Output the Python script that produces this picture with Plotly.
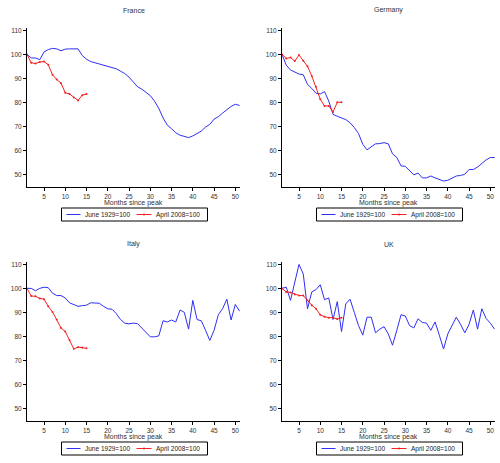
import plotly.graph_objects as go
from plotly.subplots import make_subplots

months_1929 = list(range(1, 52))
months_2008 = list(range(1, 16))

countries = ["France", "Germany", "Italy", "UK"]
legend_names = ["June 1929=100", "April 2008=100"]

france_1929 = [100, 98.5, 98.5, 97.8, 101, 102, 102.5, 102.3, 101.5, 102.2,
               102.3, 102.3, 102.3, 99.5, 98, 97, 96.5, 96, 95.5, 95,
               94.3, 94, 93, 92, 90.5, 88.5, 86.5, 85.5, 84.3, 82.8,
               80.5, 77.5, 73.5, 70.5, 69, 67.3, 66.3, 65.8, 65.3, 66,
               67, 68, 69.7, 70.8, 73, 74, 75.5, 77, 78.3, 79.2, 78.7]
france_2008 = [100, 96.5, 96.2, 96.8, 97, 95.7, 91.5, 89.5, 88, 84,
               83.5, 82, 80.8, 83, 83.5]

germany_1929 = [100, 95.5, 93.5, 92.5, 91.8, 91.5, 87.5, 85.8, 83.8, 83.5,
                84.5, 80.5, 75, 74.2, 73.5, 72.8, 71.5, 69.5, 67, 62.5,
                60.2, 61.5, 62.7, 62.8, 63.2, 62.7, 58.5, 57, 53.5, 53.3,
                51.5, 49.8, 50.5, 48.5, 48.5, 49.3, 48.5, 47.8, 47.2, 47.5,
                48.3, 49.3, 49.5, 50, 52, 52, 53, 54.5, 56, 57, 57]
germany_2008 = [100, 98.3, 98.7, 97.2, 99.7, 97.3, 95, 91, 86.5, 81.3,
                78.5, 78.5, 76, 80, 80]

italy_1929 = [100, 100, 99, 100, 100.5, 100.3, 98, 97, 97, 96,
              94, 93.2, 92.5, 92.8, 93, 94, 94, 93.8, 92.5, 91.5,
              91.3, 89.5, 87, 85.5, 85.2, 85.5, 85.3, 83.5, 81.5, 79.8,
              79.8, 80.2, 86.5, 86, 86.8, 86, 91, 90, 83, 95,
              87, 86.5, 82.5, 78.3, 82.5, 89, 91.5, 95.5, 86.8, 93.3, 90.5]
italy_2008 = [100, 96.8, 96.7, 95.8, 95.5, 92.5, 90.2, 87, 83.5, 82,
              78.5, 74.8, 75.5, 75.3, 75]

uk_1929 = [100, 100.5, 95, 103, 110, 106, 91.5, 98.5, 99.5, 101.5,
           95.3, 96, 87, 94.5, 82, 93.5, 95.5, 90, 84.5, 80.5,
           88, 88, 81.5, 83, 84, 81, 76.3, 82.5, 89, 88.5,
           84.5, 83.5, 87.3, 85.8, 85.5, 82.5, 86, 80.5, 74.7, 81,
           84.5, 88, 85, 81.5, 85, 91, 83, 91.5, 87.5, 85.5, 83]
uk_2008 = [100, 98.5, 98.3, 97.5, 97, 97, 95, 93, 91.5, 89,
           88.2, 87.8, 87.8, 87.2, 87.8]

series_1929 = [france_1929, germany_1929, italy_1929, uk_1929]
series_2008 = [france_2008, germany_2008, italy_2008, uk_2008]

x_ticks = list(range(5, 55, 5))
y_ticks = list(range(50, 120, 10))

W, H = 500, 463
# plot areas in pixels (left, right, top, bottom)
boxes = [(27, 240, 28, 187), (282, 495, 28, 187),
         (27, 240, 262, 421), (282, 495, 262, 421)]

FONT = "Liberation Sans"
BLUE = "#2f2ff5"
RED = "#f52020"


def px(x):
    return x / W


def py(y):
    return 1 - y / H


fig = make_subplots(rows=2, cols=2)

for i, name in enumerate(countries):
    r, c = i // 2 + 1, i % 2 + 1
    fig.add_trace(go.Scatter(
        x=months_1929, y=series_1929[i], mode="lines",
        line=dict(color=BLUE, width=1), name=legend_names[0]
    ), row=r, col=c)
    fig.add_trace(go.Scatter(
        x=months_2008, y=series_2008[i], mode="lines+markers",
        line=dict(color=RED, width=1),
        marker=dict(color=RED, size=2, symbol="circle"),
        name=legend_names[1]
    ), row=r, col=c)

layout = dict(
    width=W, height=H, paper_bgcolor="white", plot_bgcolor="white",
    margin=dict(l=0, r=0, t=0, b=0), showlegend=False,
    font=dict(family=FONT, size=6.5, color="#333333"),
)
annotations = []
shapes = []
for i, name in enumerate(countries):
    left, right, top, bottom = boxes[i]
    sfx = "" if i == 0 else str(i + 1)
    layout["xaxis" + sfx] = dict(
        domain=[px(left), px(right)], range=[1, 51.1],
        tickvals=x_ticks, ticks="outside", ticklen=3, tickcolor="black",
        showline=True, linecolor="black", linewidth=1,
        showgrid=False, zeroline=False,
    )
    layout["yaxis" + sfx] = dict(
        domain=[py(bottom), py(top)], range=[44.7, 111],
        tickvals=y_ticks, ticks="outside", ticklen=3, tickcolor="black",
        showline=True, linecolor="black", linewidth=1,
        showgrid=False, zeroline=False,
    )
    cx = (left + right) / 2
    annotations.append(dict(
        text=name, x=px(cx), y=py(top - 18), xref="paper", yref="paper",
        xanchor="center", yanchor="middle", showarrow=False,
        font=dict(family=FONT, size=7, color="#333333"),
    ))
    annotations.append(dict(
        text="Months since peak", x=px(cx), y=py(bottom + 16),
        xref="paper", yref="paper", xanchor="center", yanchor="middle",
        showarrow=False, font=dict(family=FONT, size=7, color="#333333"),
    ))

    # legend box below each panel
    ly = bottom + 27.5
    shapes.append(dict(type="rect", xref="paper", yref="paper",
                       x0=px(cx - 72), x1=px(cx + 74),
                       y0=py(bottom + 21), y1=py(bottom + 34),
                       line=dict(color="black", width=1)))
    shapes.append(dict(type="line", xref="paper", yref="paper",
                       x0=px(cx - 67), x1=px(cx - 53), y0=py(ly), y1=py(ly),
                       line=dict(color=BLUE, width=1)))
    shapes.append(dict(type="line", xref="paper", yref="paper",
                       x0=px(cx + 3), x1=px(cx + 18), y0=py(ly), y1=py(ly),
                       line=dict(color=RED, width=1)))
    shapes.append(dict(type="circle", xref="paper", yref="paper",
                       x0=px(cx + 9.5), x1=px(cx + 11.5),
                       y0=py(ly - 1), y1=py(ly + 1),
                       fillcolor=RED, line=dict(color=RED, width=0)))
    annotations.append(dict(
        text=legend_names[0], x=px(cx - 51), y=py(ly), xref="paper",
        yref="paper", xanchor="left", yanchor="middle", showarrow=False,
        font=dict(family=FONT, size=6.5, color="#222222"),
    ))
    annotations.append(dict(
        text=legend_names[1], x=px(cx + 20), y=py(ly), xref="paper",
        yref="paper", xanchor="left", yanchor="middle", showarrow=False,
        font=dict(family=FONT, size=6.5, color="#222222"),
    ))
layout["annotations"] = annotations
layout["shapes"] = shapes
fig.update_layout(**layout)

fig.write_html("out.html", config={"displayModeBar": False},
               post_script="document.body.style.margin='0px';")
